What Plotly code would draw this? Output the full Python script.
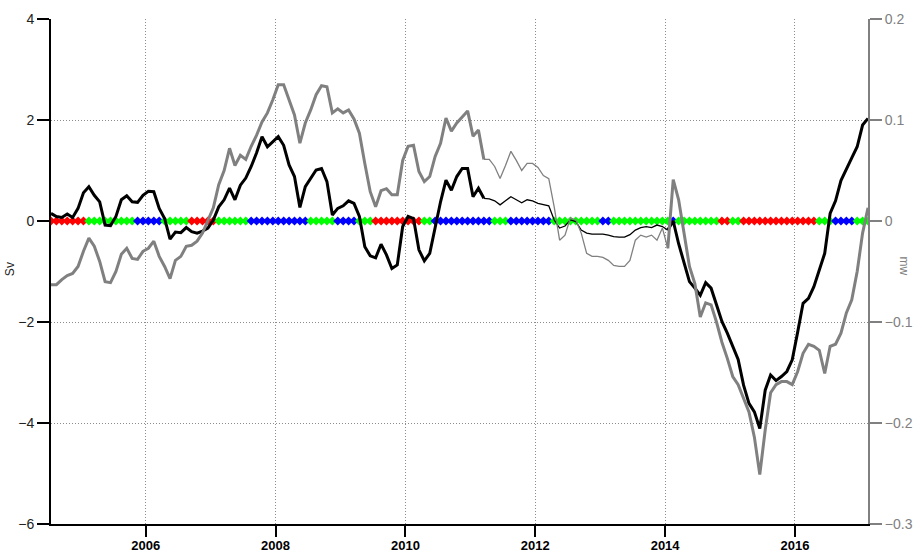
import pandas as pd
import plotly.graph_objects as go

# Monthly series, July 2004 - February 2017
START_MONTH = "2004-07"
END_MONTH = "2017-02"

# Transport anomaly (Sv, left axis)
SV = [
    0.15, 0.09, 0.07, 0.14, 0.07, 0.25, 0.56, 0.68, 0.51, 0.38,
    -0.08, -0.09, 0.09, 0.42, 0.50, 0.38, 0.37, 0.51, 0.59, 0.58,
    0.25, 0.05, -0.36, -0.22, -0.23, -0.13, -0.21, -0.24, -0.20, -0.14,
    0.02, 0.28, 0.42, 0.65, 0.42, 0.71, 0.85, 1.08, 1.35, 1.67,
    1.47, 1.57, 1.67, 1.50, 1.11, 0.88, 0.27, 0.68, 0.85, 1.01,
    1.04, 0.78, 0.12, 0.25, 0.30, 0.40, 0.35, 0.09, -0.51, -0.69,
    -0.73, -0.46, -0.67, -0.94, -0.87, -0.11, 0.09, 0.05, -0.57, -0.79,
    -0.64, -0.11, 0.38, 0.81, 0.61, 0.88, 1.04, 1.04, 0.48, 0.65,
    0.45, 0.44, 0.40, 0.32, 0.40, 0.48, 0.42, 0.36, 0.42, 0.40,
    0.35, 0.32, 0.30, 0.02, -0.14, -0.10, 0.02, -0.01, -0.18, -0.24,
    -0.26, -0.26, -0.26, -0.28, -0.31, -0.32, -0.32, -0.27, -0.18, -0.13,
    -0.11, -0.13, -0.08, -0.11, -0.18, 0.00, -0.45, -0.80, -1.20, -1.33,
    -1.47, -1.22, -1.33, -1.66, -1.99, -2.22, -2.48, -2.74, -3.25, -3.61,
    -3.78, -4.11, -3.35, -3.05, -3.16, -3.08, -2.98, -2.75, -2.20, -1.63,
    -1.53, -1.30, -0.97, -0.64, 0.15, 0.40, 0.80, 1.04, 1.25, 1.47,
    1.90, 2.03,
]

# Companion series (mw, right axis)
MW = [
    -0.063, -0.063, -0.058, -0.054, -0.052, -0.045, -0.030, -0.017, -0.025, -0.040,
    -0.060, -0.061, -0.050, -0.033, -0.027, -0.037, -0.038, -0.030, -0.027, -0.020,
    -0.035, -0.045, -0.057, -0.039, -0.035, -0.025, -0.024, -0.020, -0.012, 0.001,
    0.013, 0.036, 0.050, 0.072, 0.055, 0.065, 0.061, 0.074, 0.085, 0.098,
    0.107, 0.120, 0.135, 0.135, 0.120, 0.105, 0.077, 0.097, 0.110, 0.125,
    0.134, 0.133, 0.107, 0.111, 0.107, 0.110, 0.101, 0.087, 0.057, 0.029,
    0.014, 0.030, 0.032, 0.026, 0.026, 0.060, 0.074, 0.075, 0.049, 0.039,
    0.044, 0.064, 0.077, 0.102, 0.089, 0.097, 0.103, 0.109, 0.084, 0.090,
    0.061, 0.061, 0.054, 0.042, 0.055, 0.069, 0.060, 0.050, 0.057, 0.057,
    0.053, 0.045, 0.042, 0.014, -0.019, -0.014, 0.003, 0.001, -0.012, -0.032,
    -0.035, -0.035, -0.036, -0.039, -0.044, -0.045, -0.045, -0.039, -0.019, -0.014,
    -0.016, -0.014, -0.019, -0.007, -0.027, 0.041, 0.021, -0.010, -0.045, -0.062,
    -0.095, -0.081, -0.083, -0.100, -0.120, -0.136, -0.154, -0.162, -0.176, -0.189,
    -0.214, -0.251, -0.207, -0.170, -0.162, -0.159, -0.159, -0.162, -0.149, -0.131,
    -0.122, -0.124, -0.128, -0.151, -0.124, -0.122, -0.111, -0.091, -0.078, -0.050,
    -0.012, 0.013,
]

# Regime flag per month, stored as (state, run length)
REGIME_RUNS = [
    ("red", 7), ("green", 9), ("blue", 5), ("green", 5), ("red", 5),
    ("green", 6), ("blue", 11), ("green", 5), ("blue", 4), ("green", 3),
    ("red", 9), ("green", 2), ("blue", 11), ("green", 3), ("blue", 8),
    ("green", 9), ("blue", 2), ("green", 11), ("blue", 1), ("green", 8),
    ("red", 2), ("green", 2), ("red", 14), ("green", 3), ("blue", 4),
    ("green", 3),
]

YEAR_TICKS = [2006, 2008, 2010, 2012, 2014, 2016]
SV_TICKS = [-6, -4, -2, 0, 2, 4]
MW_TICKS = [-0.3, -0.2, -0.1, 0, 0.1, 0.2]

# Months where the fit is weak are drawn with a thin line
THIN_FROM, THIN_TO = 80, 114

COLORS = {"red": "#ff0000", "green": "#00ff00", "blue": "#0000ff"}
GRAY = "#808080"
GRID = dict(showgrid=True, gridcolor="#8c8c8c", griddash="1px,2px", gridwidth=1)
FONT = "Liberation Sans Narrow, Arial Narrow, Liberation Sans, sans-serif"

months = pd.period_range(START_MONTH, END_MONTH, freq="M")
t = [m.year + (m.month - 0.5) / 12 for m in months]

regime = []
for state, n in REGIME_RUNS:
    regime += [state] * n


def split(values):
    thick = [v if (i <= THIN_FROM or i >= THIN_TO) else None for i, v in enumerate(values)]
    thin = [v if THIN_FROM <= i <= THIN_TO else None for i, v in enumerate(values)]
    return thick, thin


sv_thick, sv_thin = split(SV)
mw_thick, mw_thin = split(MW)

fig = go.Figure()

fig.add_trace(go.Scatter(
    x=t, y=[0] * len(t), mode="markers",
    marker=dict(symbol="diamond", size=7, color=[COLORS[r] for r in regime], line=dict(width=0)),
    yaxis="y", showlegend=False, hoverinfo="skip",
))
fig.add_trace(go.Scatter(x=t, y=sv_thin, mode="lines", line=dict(color="black", width=1.3),
                         yaxis="y", showlegend=False))
fig.add_trace(go.Scatter(x=t, y=sv_thick, mode="lines", line=dict(color="black", width=3),
                         yaxis="y", showlegend=False))
fig.add_trace(go.Scatter(x=t, y=mw_thin, mode="lines", line=dict(color=GRAY, width=1.3),
                         yaxis="y2", showlegend=False))
fig.add_trace(go.Scatter(x=t, y=mw_thick, mode="lines", line=dict(color=GRAY, width=3),
                         yaxis="y2", showlegend=False))

fig.update_layout(
    width=916, height=552,
    margin=dict(l=51, r=48, t=19, b=28, autoexpand=False),
    paper_bgcolor="white", plot_bgcolor="white",
    font=dict(family=FONT, size=14, color="#222222"),
    xaxis=dict(
        range=[t[0], t[-1]], tickvals=YEAR_TICKS, ticktext=[str(y) for y in YEAR_TICKS],
        **GRID,
        showline=True, linecolor="black", linewidth=2,
        ticks="outside", ticklen=11, tickwidth=2, tickcolor="black",
        ticklabelstandoff=-3,
        tickfont=dict(family=FONT, size=13, color="black", weight="bold"),
        zeroline=False, automargin=False,
    ),
    yaxis=dict(
        range=[-6, 4], tickvals=SV_TICKS,
        **GRID,
        showline=True, linecolor="black", linewidth=2,
        ticks="outside", ticklen=12, tickwidth=2, tickcolor="black",
        tickfont=dict(family=FONT, size=14, color="#222222"),
        zeroline=False, automargin=False,
    ),
    yaxis2=dict(
        range=[-0.3, 0.2], tickvals=MW_TICKS, overlaying="y", side="right",
        showgrid=False, showline=True, linecolor=GRAY, linewidth=2,
        ticks="outside", ticklen=12, tickwidth=2, tickcolor=GRAY,
        tickfont=dict(family=FONT, size=14, color=GRAY),
        zeroline=False, automargin=False,
    ),
    annotations=[
        dict(text="Sv", xref="paper", yref="paper", x=-0.05, y=0.505, showarrow=False,
             textangle=-90, font=dict(family=FONT, size=12, color="#222222"),
             xanchor="center", yanchor="middle"),
        dict(text="mw", xref="paper", yref="paper", x=1.044, y=0.51, showarrow=False,
             textangle=90, font=dict(family=FONT, size=12, color=GRAY),
             xanchor="center", yanchor="middle"),
    ],
)

fig.write_html("out.html")
